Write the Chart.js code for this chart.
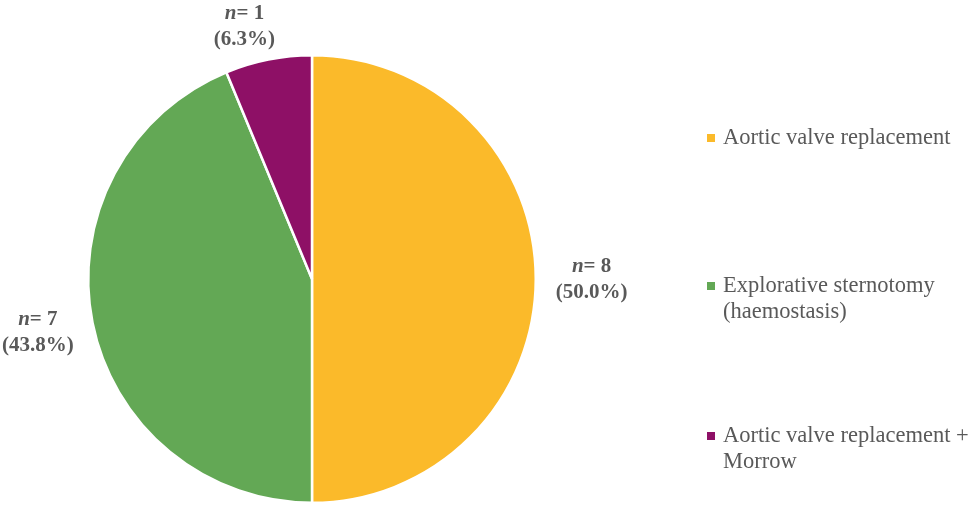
<!DOCTYPE html>
<html>
<head>
<meta charset="utf-8">
<script src="https://cdn.jsdelivr.net/npm/chart.js@4.4.1/dist/chart.umd.min.js"></script>
<style>
  html, body { margin: 0; padding: 0; background: #fff; }
  #wrap { position: relative; width: 969px; height: 505px; overflow: hidden; }
  #c { position: absolute; left: 0; top: 0; }
  .leg { position: absolute; left: 707px; font-family: "Liberation Serif", "Times New Roman", serif;
         font-size: 22.5px; line-height: 26px; color: #595959; white-space: nowrap; }
  .leg .sw { position: absolute; left: 0; top: 10px; width: 8px; height: 8px; }
  .leg .tx { position: absolute; left: 16px; top: 0; }
</style>
</head>
<body>
<div id="wrap">
  <canvas id="c" width="969" height="505"></canvas>
  <div id="legend"></div>
</div>
<script>
const categories = ["Aortic valve replacement", "Explorative sternotomy (haemostasis)", "Aortic valve replacement + Morrow"];
const legendLines = [["Aortic valve replacement"], ["Explorative sternotomy", "(haemostasis)"], ["Aortic valve replacement +", "Morrow"]];
const counts = [8, 7, 1];
const percentLabels = ["50.0%", "43.8%", "6.3%"];
const colors = ["#FBBA2A", "#63A855", "#8E1066"];

// HTML legend
const legendTops = [124, 272, 422];
const legEl = document.getElementById('legend');
legendLines.forEach((lines, i) => {
  const d = document.createElement('div');
  d.className = 'leg';
  d.style.top = legendTops[i] + 'px';
  d.innerHTML = '<div class="sw" style="background:' + colors[i] + '"></div><div class="tx">' + lines.join('<br>') + '</div>';
  legEl.appendChild(d);
});

const labelPlugin = {
  id: 'outsideLabels',
  afterDatasetsDraw(chart) {
    const ctx = chart.ctx;
    const meta = chart.getDatasetMeta(0);
    const fontFam = '"Liberation Serif", "Times New Roman", serif';
    const size = 21, lh = 26, gap = 20;
    meta.data.forEach((arc, i) => {
      const p = arc.getProps(['x', 'y', 'startAngle', 'endAngle', 'outerRadius'], true);
      const mid = (p.startAngle + p.endAngle) / 2;
      const cx = Math.cos(mid), cy = Math.sin(mid);
      const l1a = 'n', l1b = '= ' + counts[i];
      const l2 = '(' + percentLabels[i] + ')';
      ctx.save();
      ctx.font = 'italic bold ' + size + 'px ' + fontFam;
      const wa = ctx.measureText(l1a).width;
      ctx.font = 'bold ' + size + 'px ' + fontFam;
      const wb = ctx.measureText(l1b).width;
      const w2 = ctx.measureText(l2).width;
      const w = Math.max(wa + wb, w2);
      const h = lh * 2;
      let bx = p.x + cx * (p.outerRadius + gap) + cx * w / 2;
      let by = p.y + cy * (p.outerRadius + gap) + cy * h / 2;
      bx = Math.min(Math.max(bx, w / 2 + 2), chart.width - w / 2 - 2);
      by = Math.min(Math.max(by, h / 2), chart.height - h / 2);
      if (i === 2) bx -= 14;
      ctx.fillStyle = '#595959';
      ctx.textBaseline = 'middle';
      ctx.textAlign = 'left';
      const y1 = by - lh / 2 + 1, y2 = by + lh / 2 + 1;
      const x1 = bx - (wa + wb) / 2;
      ctx.font = 'italic bold ' + size + 'px ' + fontFam;
      ctx.fillText(l1a, x1, y1);
      ctx.font = 'bold ' + size + 'px ' + fontFam;
      ctx.fillText(l1b, x1 + wa, y1);
      ctx.textAlign = 'center';
      ctx.fillText(l2, bx, y2);
      ctx.restore();
    });
  }
};

new Chart(document.getElementById('c'), {
  type: 'pie',
  data: {
    labels: categories,
    datasets: [{
      data: counts,
      backgroundColor: colors,
      borderColor: '#ffffff',
      borderWidth: 2.5
    }]
  },
  options: {
    responsive: false,
    animation: false,
    layout: { padding: { left: 87, right: 432, top: 54, bottom: 1 } },
    plugins: { legend: { display: false }, tooltip: { enabled: false } }
  },
  plugins: [labelPlugin]
});
</script>
</body>
</html>
